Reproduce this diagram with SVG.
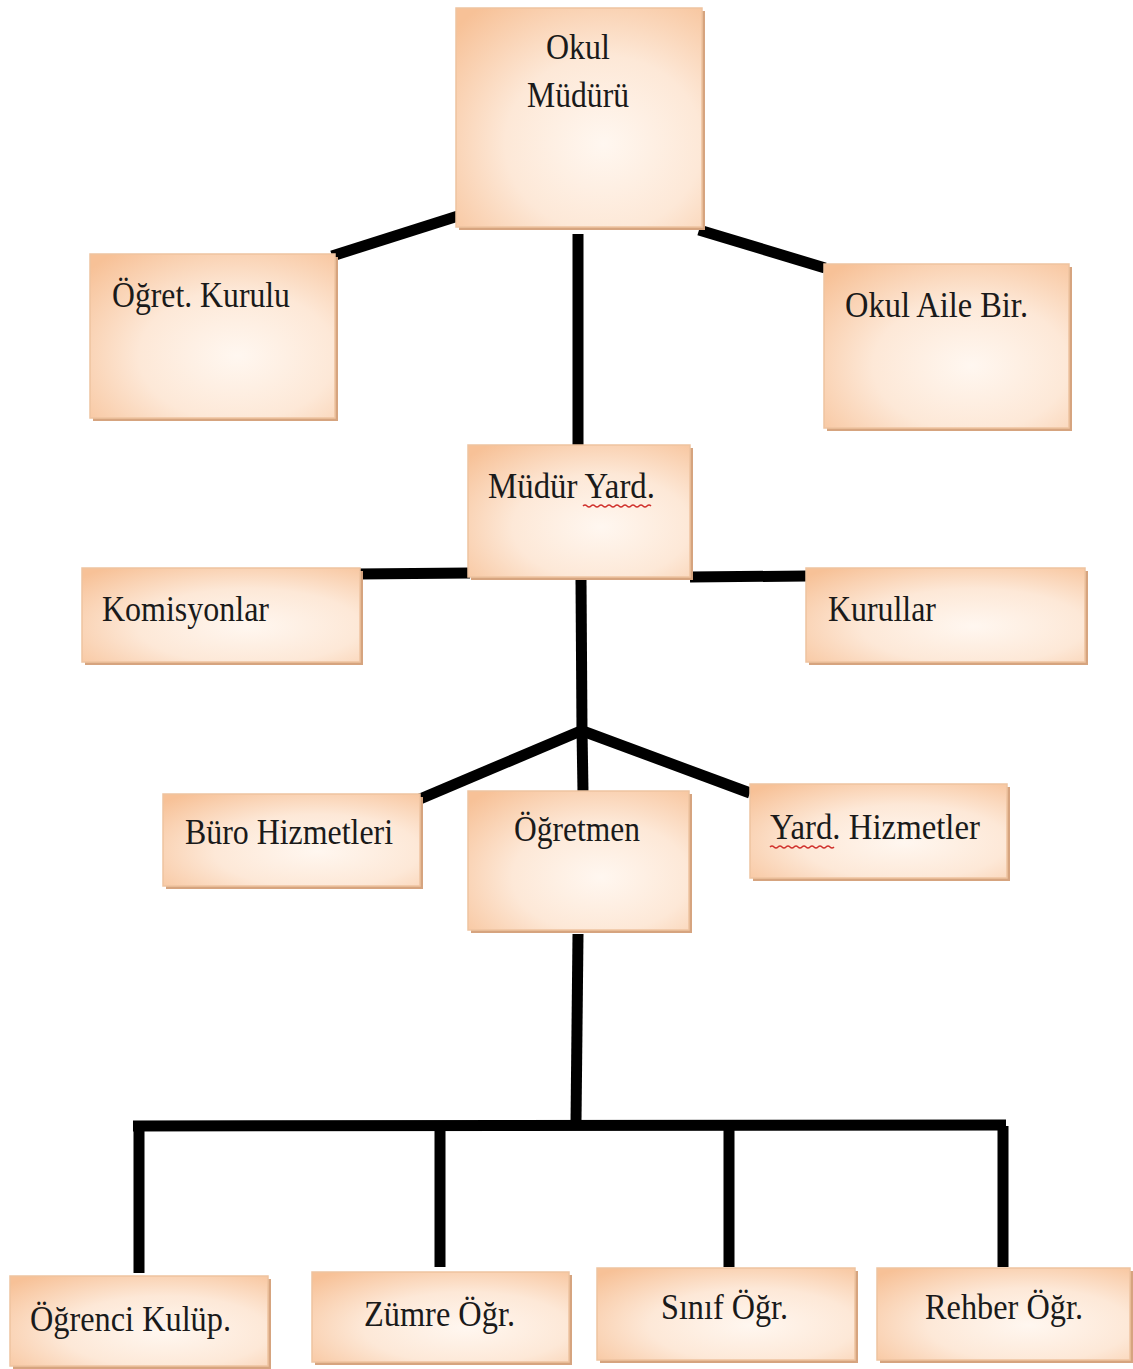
<svg xmlns="http://www.w3.org/2000/svg" width="1133" height="1369" viewBox="0 0 1133 1369">
<defs>
<radialGradient id="g" cx="0.6" cy="0.62" r="0.8">
<stop offset="0" stop-color="#fff7f0"/>
<stop offset="0.5" stop-color="#fde8d7"/>
<stop offset="1" stop-color="#f7c197"/>
</radialGradient>
<style>
.box{fill:url(#g);stroke:#eec3a0;stroke-width:1.5}
.sh{fill:#d6a47f}
.t{font-family:"Liberation Serif","Times New Roman",serif;font-size:36px;fill:#1a1a1a}
.c{stroke:#000;stroke-width:11;fill:none;stroke-linecap:butt}
.sq{stroke:#d0312d;stroke-width:1.5;fill:none}
</style>
</defs>
<rect width="1133" height="1369" fill="#ffffff"/>
<g id="connectors">
<line class="c" x1="458" y1="216" x2="332" y2="256"/>
<line class="c" x1="699" y1="230" x2="825" y2="268"/>
<line class="c" x1="578" y1="234" x2="578" y2="446"/>
<line class="c" x1="357" y1="574" x2="470" y2="573"/>
<line class="c" x1="690" y1="577" x2="807" y2="576"/>
<line class="c" x1="581" y1="580" x2="582" y2="732"/>
<line class="c" x1="583" y1="730" x2="420" y2="799"/>
<line class="c" x1="580" y1="730" x2="750" y2="793"/>
<line class="c" x1="582" y1="730" x2="583" y2="792"/>
<line class="c" x1="578" y1="934" x2="576" y2="1122"/>
<line class="c" x1="133" y1="1126" x2="1006" y2="1125"/>
<line class="c" x1="139" y1="1126" x2="139" y2="1273"/>
<line class="c" x1="440" y1="1126" x2="440" y2="1267"/>
<line class="c" x1="729" y1="1126" x2="729" y2="1267"/>
<line class="c" x1="1003" y1="1126" x2="1003" y2="1267"/>
</g>
<g id="okul-muduru">
<rect class="sh" x="459" y="11" width="246" height="219"/>
<rect class="box" x="456" y="8" width="246" height="219"/>
<text class="t" x="578" y="59" text-anchor="middle" textLength="64" lengthAdjust="spacingAndGlyphs">Okul</text>
<text class="t" x="578" y="107" text-anchor="middle" textLength="102" lengthAdjust="spacingAndGlyphs">Müdürü</text>
</g>
<g id="ogret-kurulu">
<rect class="sh" x="93" y="257" width="245" height="164"/>
<rect class="box" x="90" y="254" width="245" height="164"/>
<text class="t" x="112" y="307" textLength="178" lengthAdjust="spacingAndGlyphs">Öğret. Kurulu</text>
</g>
<g id="okul-aile-bir">
<rect class="sh" x="827" y="267" width="245" height="164"/>
<rect class="box" x="824" y="264" width="245" height="164"/>
<text class="t" x="845" y="317" textLength="183" lengthAdjust="spacingAndGlyphs">Okul Aile Bir.</text>
</g>
<g id="mudur-yard">
<rect class="sh" x="471" y="448" width="222" height="132"/>
<rect class="box" x="468" y="445" width="222" height="132"/>
<text class="t" x="488" y="498" textLength="167" lengthAdjust="spacingAndGlyphs">Müdür Yard.</text>
<path class="sq" d="M583 506 q2 -2 4 0 t4 0 t4 0 t4 0 t4 0 t4 0 t4 0 t4 0 t4 0 t4 0 t4 0 t4 0 t4 0 t4 0 t4 0 t4 0 t4 0"/>
</g>
<g id="komisyonlar">
<rect class="sh" x="85" y="571" width="278" height="94"/>
<rect class="box" x="82" y="568" width="278" height="94"/>
<text class="t" x="102" y="621" textLength="167" lengthAdjust="spacingAndGlyphs">Komisyonlar</text>
</g>
<g id="kurullar">
<rect class="sh" x="809" y="571" width="279" height="94"/>
<rect class="box" x="806" y="568" width="279" height="94"/>
<text class="t" x="828" y="621" textLength="108" lengthAdjust="spacingAndGlyphs">Kurullar</text>
</g>
<g id="buro-hizmetleri">
<rect class="sh" x="166" y="797" width="257" height="92"/>
<rect class="box" x="163" y="794" width="257" height="92"/>
<text class="t" x="185" y="844" textLength="208" lengthAdjust="spacingAndGlyphs">Büro Hizmetleri</text>
</g>
<g id="ogretmen">
<rect class="sh" x="471" y="794" width="221" height="139"/>
<rect class="box" x="468" y="791" width="221" height="139"/>
<text class="t" x="514" y="841" textLength="126" lengthAdjust="spacingAndGlyphs">Öğretmen</text>
</g>
<g id="yard-hizmetler">
<rect class="sh" x="753" y="787" width="257" height="94"/>
<rect class="box" x="750" y="784" width="257" height="94"/>
<text class="t" x="770" y="839" textLength="210" lengthAdjust="spacingAndGlyphs">Yard. Hizmetler</text>
<path class="sq" d="M770 847 q2 -2 4 0 t4 0 t4 0 t4 0 t4 0 t4 0 t4 0 t4 0 t4 0 t4 0 t4 0 t4 0 t4 0 t4 0 t4 0 t4 0"/>
</g>
<g id="ogrenci-kulup">
<rect class="sh" x="13" y="1279" width="258" height="90"/>
<rect class="box" x="10" y="1276" width="258" height="90"/>
<text class="t" x="30" y="1331" textLength="201" lengthAdjust="spacingAndGlyphs">Öğrenci Kulüp.</text>
</g>
<g id="zumre-ogr">
<rect class="sh" x="315" y="1275" width="257" height="90"/>
<rect class="box" x="312" y="1272" width="257" height="90"/>
<text class="t" x="364" y="1326" textLength="151" lengthAdjust="spacingAndGlyphs">Zümre Öğr.</text>
</g>
<g id="sinif-ogr">
<rect class="sh" x="600" y="1271" width="258" height="92"/>
<rect class="box" x="597" y="1268" width="258" height="92"/>
<text class="t" x="661" y="1319" textLength="127" lengthAdjust="spacingAndGlyphs">Sınıf Öğr.</text>
</g>
<g id="rehber-ogr">
<rect class="sh" x="880" y="1271" width="253" height="92"/>
<rect class="box" x="877" y="1268" width="253" height="92"/>
<text class="t" x="925" y="1319" textLength="158" lengthAdjust="spacingAndGlyphs">Rehber Öğr.</text>
</g>
</svg>
